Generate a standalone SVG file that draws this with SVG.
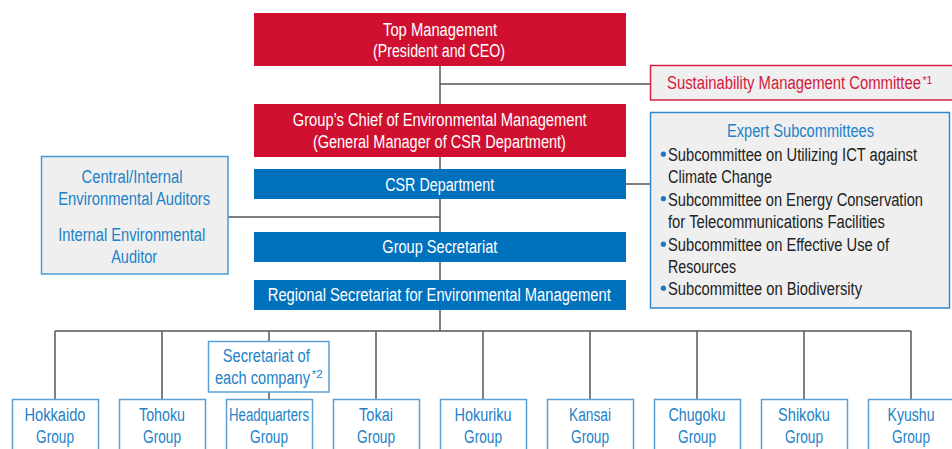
<svg xmlns="http://www.w3.org/2000/svg" width="952" height="449" viewBox="0 0 952 449">
<style>
.t{font-family:"Liberation Sans",Arial,sans-serif;font-size:18px;text-anchor:middle}
.s{text-anchor:start}
.sup{font-family:"Liberation Sans",Arial,sans-serif;font-size:10px}
.w{fill:#fff}
.b{fill:#2282c8}
.k{fill:#222}
.r{fill:#d31a3c}
.red{fill:#d01030}
.blue{fill:#0071bd}
.gray{fill:#efefef}
.gb{fill:#fff;stroke:#5aa0d6;stroke-width:1.5}
.ln{stroke:#555;stroke-width:1.5;fill:none}
.dot{fill:#1a78c8}
</style>
<g id="connectors">
<path class="ln" d="M440 66V331 M440 84H650 M626 184H650 M228 217H440 M55 331H911 M55 331V399 M162 331V399 M269 331V341 M269 392V399 M376 331V399 M483 331V399 M590 331V399 M697 331V399 M804 331V399 M911 331V399"/>
</g>
<g id="top-management">
<rect class="red" x="254" y="13" width="372" height="53"/>
<text class="t w" x="440" y="36" textLength="114" lengthAdjust="spacingAndGlyphs">Top Management</text>
<text class="t w" x="439" y="56.5" textLength="132" lengthAdjust="spacingAndGlyphs">(President and CEO)</text>
</g>
<g id="sustainability-committee">
<rect class="gray" x="650.5" y="65.5" width="305" height="34.5" stroke="#d8213f" stroke-width="1.5"/>
<text class="t s r" x="667" y="89.3" textLength="254" lengthAdjust="spacingAndGlyphs">Sustainability Management Committee</text>
<text class="sup r" x="922.5" y="84" textLength="10" lengthAdjust="spacingAndGlyphs">*1</text>
</g>
<g id="chief">
<rect class="red" x="254" y="104" width="372" height="53"/>
<text class="t w" x="439.7" y="126" textLength="294" lengthAdjust="spacingAndGlyphs">Group’s Chief of Environmental Management</text>
<text class="t w" x="439.4" y="148" textLength="253" lengthAdjust="spacingAndGlyphs">(General Manager of CSR Department)</text>
</g>
<g id="expert-subcommittees">
<rect class="gray" x="650.5" y="112.5" width="299" height="195.5" stroke="#2e8ad2" stroke-width="1.5"/>
<text class="t b" x="800.5" y="137" textLength="147" lengthAdjust="spacingAndGlyphs">Expert Subcommittees</text>
<circle class="dot" cx="663.4" cy="154.2" r="2.6"/>
<text class="t s k" x="668" y="161" textLength="249" lengthAdjust="spacingAndGlyphs">Subcommittee on Utilizing ICT against</text>
<text class="t s k" x="668" y="183" textLength="104" lengthAdjust="spacingAndGlyphs">Climate Change</text>
<circle class="dot" cx="663.4" cy="198.7" r="2.6"/>
<text class="t s k" x="668" y="205.5" textLength="255" lengthAdjust="spacingAndGlyphs">Subcommittee on Energy Conservation</text>
<text class="t s k" x="668" y="228" textLength="217" lengthAdjust="spacingAndGlyphs">for Telecommunications Facilities</text>
<circle class="dot" cx="663.4" cy="244.2" r="2.6"/>
<text class="t s k" x="668" y="251" textLength="221" lengthAdjust="spacingAndGlyphs">Subcommittee on Effective Use of</text>
<text class="t s k" x="668" y="273" textLength="68" lengthAdjust="spacingAndGlyphs">Resources</text>
<circle class="dot" cx="663.4" cy="288.2" r="2.6"/>
<text class="t s k" x="668" y="295" textLength="194" lengthAdjust="spacingAndGlyphs">Subcommittee on Biodiversity</text>
</g>
<g id="csr-department">
<rect class="blue" x="254" y="169" width="372" height="30"/>
<text class="t w" x="439.7" y="190.5" textLength="109" lengthAdjust="spacingAndGlyphs">CSR Department</text>
</g>
<g id="auditors">
<rect class="gray" x="41.5" y="156.5" width="186.5" height="117.5" stroke="#4a9ad6" stroke-width="1.5"/>
<text class="t b" x="132" y="182.5" textLength="101" lengthAdjust="spacingAndGlyphs">Central/Internal</text>
<text class="t b" x="134.2" y="205" textLength="152" lengthAdjust="spacingAndGlyphs">Environmental Auditors</text>
<text class="t b" x="131.7" y="240.5" textLength="147" lengthAdjust="spacingAndGlyphs">Internal Environmental</text>
<text class="t b" x="134.2" y="262.5" textLength="46" lengthAdjust="spacingAndGlyphs">Auditor</text>
</g>
<g id="group-secretariat">
<rect class="blue" x="254" y="232" width="372" height="30"/>
<text class="t w" x="439.8" y="253" textLength="115" lengthAdjust="spacingAndGlyphs">Group Secretariat</text>
</g>
<g id="regional-secretariat">
<rect class="blue" x="254" y="280" width="372" height="30"/>
<text class="t w" x="439.3" y="301" textLength="343" lengthAdjust="spacingAndGlyphs">Regional Secretariat for Environmental Management</text>
</g>
<g id="secretariat-each-company">
<rect class="gb" x="208.5" y="341.5" width="120.5" height="50.5"/>
<text class="t b" x="266.3" y="361.5" textLength="87" lengthAdjust="spacingAndGlyphs">Secretariat of</text>
<text class="t s b" x="215" y="384" textLength="95" lengthAdjust="spacingAndGlyphs">each company</text>
<text class="sup b" x="311.8" y="378" textLength="11" lengthAdjust="spacingAndGlyphs">*2</text>
</g>
<g id="hokkaido">
<rect class="gb" x="12.5" y="399.5" width="86" height="60"/>
<text class="t b" x="55" y="420.5" textLength="61" lengthAdjust="spacingAndGlyphs">Hokkaido</text>
<text class="t b" x="55" y="442.5" textLength="38" lengthAdjust="spacingAndGlyphs">Group</text>
</g>
<g id="tohoku">
<rect class="gb" x="119.5" y="399.5" width="86" height="60"/>
<text class="t b" x="162" y="420.5" textLength="46" lengthAdjust="spacingAndGlyphs">Tohoku</text>
<text class="t b" x="162" y="442.5" textLength="38" lengthAdjust="spacingAndGlyphs">Group</text>
</g>
<g id="headquarters">
<rect class="gb" x="226.5" y="399.5" width="86" height="60"/>
<text class="t b" x="269" y="420.5" textLength="80" lengthAdjust="spacingAndGlyphs">Headquarters</text>
<text class="t b" x="269" y="442.5" textLength="38" lengthAdjust="spacingAndGlyphs">Group</text>
</g>
<g id="tokai">
<rect class="gb" x="333.5" y="399.5" width="86" height="60"/>
<text class="t b" x="376" y="420.5" textLength="34" lengthAdjust="spacingAndGlyphs">Tokai</text>
<text class="t b" x="376" y="442.5" textLength="38" lengthAdjust="spacingAndGlyphs">Group</text>
</g>
<g id="hokuriku">
<rect class="gb" x="440.5" y="399.5" width="86" height="60"/>
<text class="t b" x="483" y="420.5" textLength="57" lengthAdjust="spacingAndGlyphs">Hokuriku</text>
<text class="t b" x="483" y="442.5" textLength="38" lengthAdjust="spacingAndGlyphs">Group</text>
</g>
<g id="kansai">
<rect class="gb" x="547.5" y="399.5" width="86" height="60"/>
<text class="t b" x="590" y="420.5" textLength="42" lengthAdjust="spacingAndGlyphs">Kansai</text>
<text class="t b" x="590" y="442.5" textLength="38" lengthAdjust="spacingAndGlyphs">Group</text>
</g>
<g id="chugoku">
<rect class="gb" x="654.5" y="399.5" width="86" height="60"/>
<text class="t b" x="697" y="420.5" textLength="57" lengthAdjust="spacingAndGlyphs">Chugoku</text>
<text class="t b" x="697" y="442.5" textLength="38" lengthAdjust="spacingAndGlyphs">Group</text>
</g>
<g id="shikoku">
<rect class="gb" x="761.5" y="399.5" width="86" height="60"/>
<text class="t b" x="804" y="420.5" textLength="52" lengthAdjust="spacingAndGlyphs">Shikoku</text>
<text class="t b" x="804" y="442.5" textLength="38" lengthAdjust="spacingAndGlyphs">Group</text>
</g>
<g id="kyushu">
<rect class="gb" x="868.5" y="399.5" width="86" height="60"/>
<text class="t b" x="911" y="420.5" textLength="47" lengthAdjust="spacingAndGlyphs">Kyushu</text>
<text class="t b" x="911" y="442.5" textLength="38" lengthAdjust="spacingAndGlyphs">Group</text>
</g>
</svg>
